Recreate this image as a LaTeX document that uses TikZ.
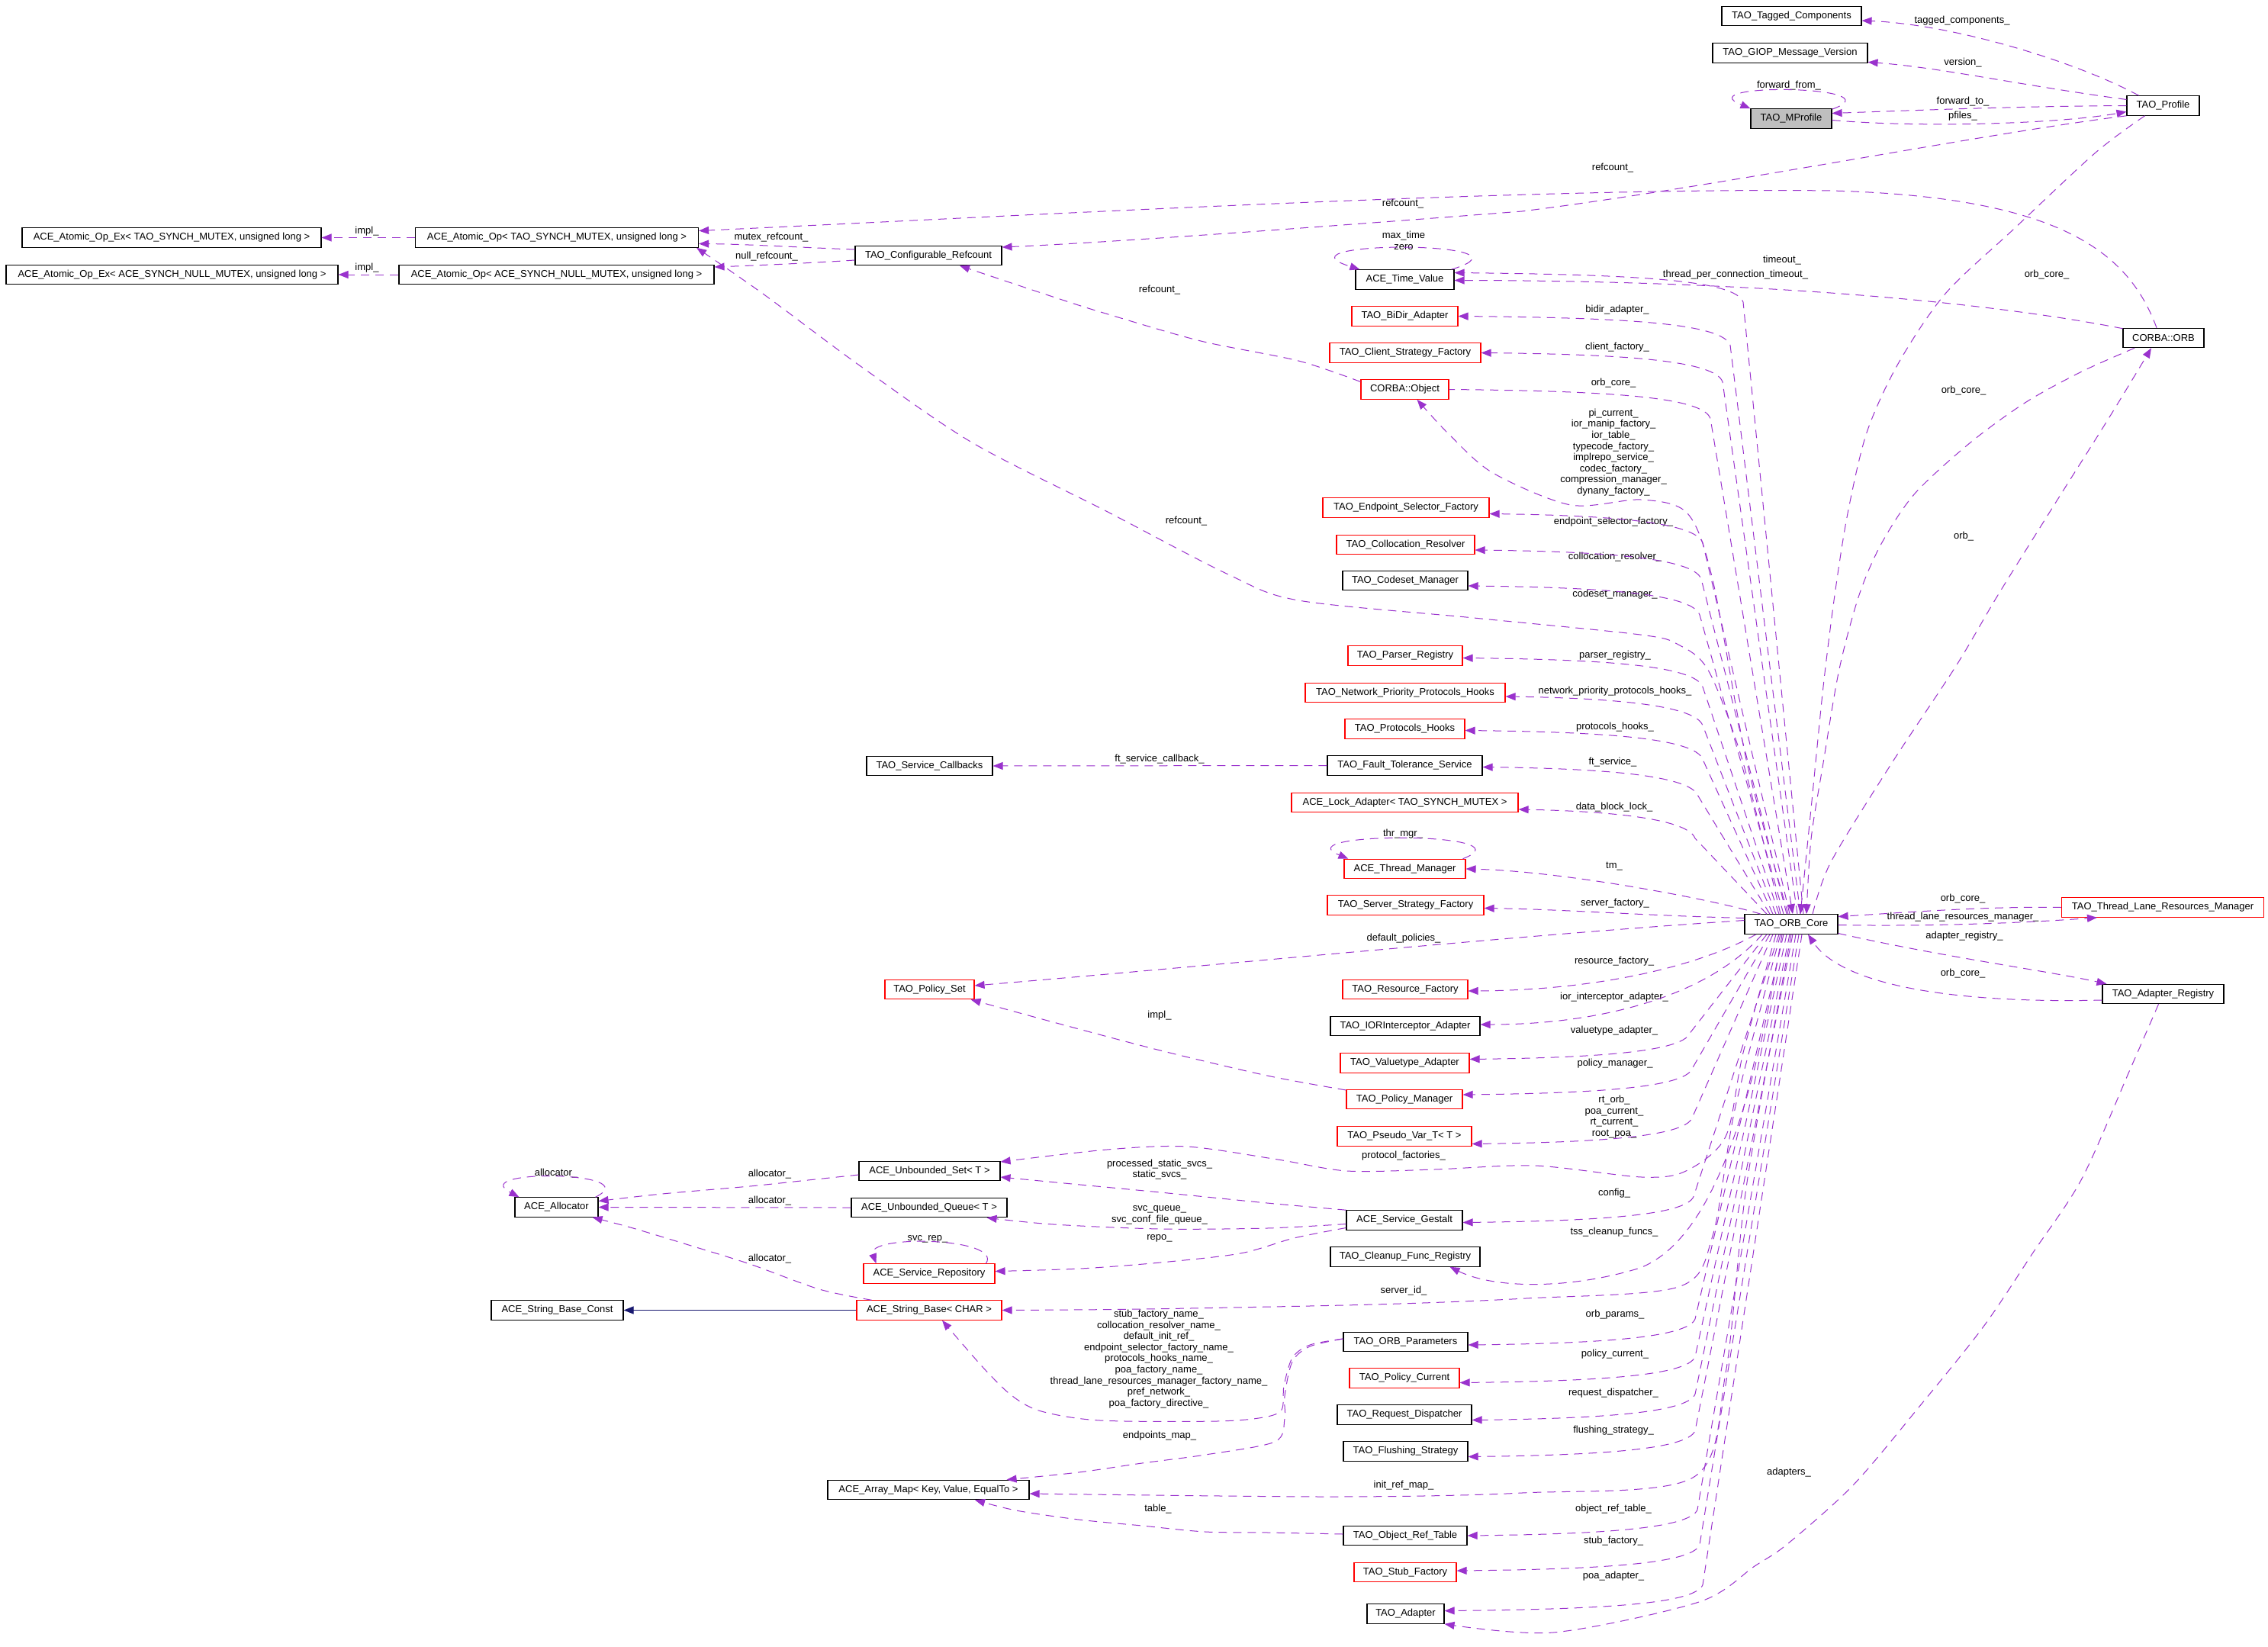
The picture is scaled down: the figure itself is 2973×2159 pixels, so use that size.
\documentclass[tikz,border=0pt]{standalone}
\usepackage{fontspec}
\setmainfont{Liberation Sans}
\usetikzlibrary{arrows.meta}
\definecolor{dorchid}{HTML}{9A32CD}
\definecolor{navyb}{HTML}{191970}
% fan edge from the top of TAO_ORB_Core: #2 target anchor, #3 x shift at core, #4 bend x, #5 target y
\newcommand\UpE[5][]{%
  \pgfmathsetmacro\upBY{#5+38}\pgfmathsetmacro\upCX{#4-10}\pgfmathsetmacro\upCY{#5+10}%
  \pgfmathsetmacro\upDX{#4-130}\pgfmathsetmacro\upDY{#5+2}%
  \draw[dep,->,#1] ([xshift=#3pt]core.north) -- (#4,\upBY) .. controls (\upCX,\upCY) and (\upDX,\upDY) .. (#2);}
\newcommand\DnE[5][]{%
  \pgfmathsetmacro\upBY{#5-34}\pgfmathsetmacro\upCX{#4-10}\pgfmathsetmacro\upCY{#5-9}%
  \pgfmathsetmacro\upDX{#4-130}\pgfmathsetmacro\upDY{#5-2}%
  \draw[dep,->,#1] ([xshift=#3pt]core.south) -- (#4,\upBY) .. controls (\upCX,\upCY) and (\upDX,\upDY) .. (#2);}
\begin{document}
\begin{tikzpicture}[x=1pt,y=-1pt,
  >={Triangle[length=13pt,width=10pt]},
  every node/.style={font=\fontsize{13}{14.6}\selectfont},
  box/.style={draw=black,line width=1.1pt,minimum height=25.5pt,inner sep=0pt,fill=white},
  rbox/.style={box,draw=red},
  gbox/.style={box,fill=black!25},
  dep/.style={draw=dorchid,line width=1pt,dash pattern=on 11pt off 8pt},
  lbl/.style={inner sep=0pt,align=center},
  inh/.style={draw=navyb,line width=1.1pt,->}]
\fill[white] (0,0) rectangle (2973,2159);
\useasboundingbox (0,0) rectangle (2973,2159);
% ---------------- nodes
\node[box,minimum width=183pt] (tagged) at (2348.5,21) {TAO\_Tagged\_Components};
\node[box,minimum width=203pt] (giop) at (2346.5,69.5) {TAO\_GIOP\_Message\_Version};
\node[gbox,minimum width=106pt] (mprofile) at (2348,155.5) {TAO\_MProfile};
\node[box,minimum width=95pt] (profile) at (2835.5,138.5) {TAO\_Profile};
\node[box,minimum width=392pt] (atomicexT) at (225,311.5) {ACE\_Atomic\_Op\_Ex< TAO\_SYNCH\_MUTEX, unsigned long >};
\node[box,minimum width=371pt] (atomicT) at (730,311.5) {ACE\_Atomic\_Op< TAO\_SYNCH\_MUTEX, unsigned long >};
\node[box,minimum width=435pt] (atomicexN) at (225.5,360) {ACE\_Atomic\_Op\_Ex< ACE\_SYNCH\_NULL\_MUTEX, unsigned long >};
\node[box,minimum width=413pt] (atomicN) at (729.5,360) {ACE\_Atomic\_Op< ACE\_SYNCH\_NULL\_MUTEX, unsigned long >};
\node[box,minimum width=192pt] (cfgref) at (1217,335) {TAO\_Configurable\_Refcount};
\node[box,minimum width=129pt] (timeval) at (1841.5,366.5) {ACE\_Time\_Value};
\node[rbox,minimum width=139pt] (bidir) at (1841.5,414.5) {TAO\_BiDir\_Adapter};
\node[rbox,minimum width=198pt] (clientsf) at (1842,462.5) {TAO\_Client\_Strategy\_Factory};
\node[rbox,minimum width=115pt] (cobject) at (1841.5,510.5) {CORBA::Object};
\node[box,minimum width=106pt] (corbaorb) at (2836,443) {CORBA::ORB};
\node[rbox,minimum width=218pt] (endpoint) at (1843,665.5) {TAO\_Endpoint\_Selector\_Factory};
\node[rbox,minimum width=181pt] (colloc) at (1842.5,714) {TAO\_Collocation\_Resolver};
\node[box,minimum width=164pt] (codeset) at (1842,761) {TAO\_Codeset\_Manager};
\node[rbox,minimum width=150pt] (parser) at (1842,859.5) {TAO\_Parser\_Registry};
\node[rbox,minimum width=262pt] (netprio) at (1842,908) {TAO\_Network\_Priority\_Protocols\_Hooks};
\node[rbox,minimum width=157pt] (protohooks) at (1841.5,955.5) {TAO\_Protocols\_Hooks};
\node[box,minimum width=165pt] (svccb) at (1218.5,1004) {TAO\_Service\_Callbacks};
\node[box,minimum width=203pt] (ftsvc) at (1841.5,1003.5) {TAO\_Fault\_Tolerance\_Service};
\node[rbox,minimum width=297pt] (lockad) at (1841.5,1052) {ACE\_Lock\_Adapter< TAO\_SYNCH\_MUTEX >};
\node[rbox,minimum width=159pt] (thrmgr) at (1841.5,1139) {ACE\_Thread\_Manager};
\node[rbox,minimum width=205pt] (serversf) at (1842.5,1186.5) {TAO\_Server\_Strategy\_Factory};
\node[box,minimum width=122pt] (core) at (2348,1211.5) {TAO\_ORB\_Core};
\node[rbox,minimum width=265pt] (tlrm) at (2835,1189.5) {TAO\_Thread\_Lane\_Resources\_Manager};
\node[box,minimum width=159pt] (adreg) at (2835.5,1303) {TAO\_Adapter\_Registry};
\node[rbox,minimum width=117pt] (polset) at (1218.5,1297) {TAO\_Policy\_Set};
\node[rbox,minimum width=164pt] (resfac) at (1842,1297) {TAO\_Resource\_Factory};
\node[box,minimum width=196pt] (iorint) at (1842,1345) {TAO\_IORInterceptor\_Adapter};
\node[rbox,minimum width=169pt] (valtype) at (1841.5,1393.5) {TAO\_Valuetype\_Adapter};
\node[rbox,minimum width=152pt] (polmgr) at (1841,1441) {TAO\_Policy\_Manager};
\node[rbox,minimum width=176pt] (pseudo) at (1841,1489.5) {TAO\_Pseudo\_Var\_T< T >};
\node[box,minimum width=185pt] (uset) at (1218.5,1535) {ACE\_Unbounded\_Set< T >};
\node[box,minimum width=204pt] (uqueue) at (1218,1583) {ACE\_Unbounded\_Queue< T >};
\node[box,minimum width=152pt] (gestalt) at (1841,1599.5) {ACE\_Service\_Gestalt};
\node[box,minimum width=109pt] (alloc) at (729.5,1582.5) {ACE\_Allocator};
\node[rbox,minimum width=172pt] (svcrepo) at (1218,1669.5) {ACE\_Service\_Repository};
\node[box,minimum width=196pt] (cleanup) at (1842,1647.5) {TAO\_Cleanup\_Func\_Registry};
\node[box,minimum width=173pt] (strconst) at (730.5,1717.5) {ACE\_String\_Base\_Const};
\node[rbox,minimum width=190pt] (strbase) at (1218,1717.5) {ACE\_String\_Base< CHAR >};
\node[box,minimum width=163pt] (orbparams) at (1842.5,1759) {TAO\_ORB\_Parameters};
\node[rbox,minimum width=144pt] (polcur) at (1841,1806.5) {TAO\_Policy\_Current};
\node[box,minimum width=176pt] (reqdisp) at (1841,1854.5) {TAO\_Request\_Dispatcher};
\node[box,minimum width=163pt] (flush) at (1842.5,1902.5) {TAO\_Flushing\_Strategy};
\node[box,minimum width=264pt] (arraymap) at (1217,1953) {ACE\_Array\_Map< Key, Value, EqualTo >};
\node[box,minimum width=162pt] (objref) at (1842,2013) {TAO\_Object\_Ref\_Table};
\node[rbox,minimum width=134pt] (stubfac) at (1842,2061) {TAO\_Stub\_Factory};
\node[box,minimum width=101pt] (adapter) at (1842.5,2115.5) {TAO\_Adapter};
% ---------------- labels
\node[lbl] (L1) at (2572,27) {tagged\_components\_};
\node[lbl] (L2) at (2573,82) {version\_};
\node[lbl] (L3) at (2573,133) {forward\_to\_};
\node[lbl] (L4) at (2573,152) {pfiles\_};
\node[lbl] (L5) at (2345,112) {forward\_from\_};
\node[lbl] (L6) at (2114,220) {refcount\_};
\node[lbl] (L7) at (1839,267) {refcount\_};
\node[lbl] (L8) at (2683,360) {orb\_core\_};
\node[lbl] (L9) at (481,303) {impl\_};
\node[lbl] (L10) at (481,351) {impl\_};
\node[lbl] (L11) at (1011,311) {mutex\_refcount\_};
\node[lbl] (L12) at (1005,336) {null\_refcount\_};
\node[lbl] (L13) at (1840,315.5) {max\_time\\zero};
\node[lbl] (L14) at (2336,341) {timeout\_};
\node[lbl] (L15) at (2275,360) {thread\_per\_connection\_timeout\_};
\node[lbl] (L16) at (1520,380) {refcount\_};
\node[lbl] (L17) at (2120,406) {bidir\_adapter\_};
\node[lbl] (L18) at (2120,455) {client\_factory\_};
\node[lbl] (L19) at (2115,502) {orb\_core\_};
\node[lbl] (L20) at (2574,512) {orb\_core\_};
\node[lbl] (L21) at (2115,593) {pi\_current\_\\ior\_manip\_factory\_\\ior\_table\_\\typecode\_factory\_\\implrepo\_service\_\\codec\_factory\_\\compression\_manager\_\\dynany\_factory\_};
\node[lbl] (L22) at (2115,684) {endpoint\_selector\_factory\_};
\node[lbl] (L23) at (1555,683) {refcount\_};
\node[lbl] (L24) at (2574,703) {orb\_};
\node[lbl] (L25) at (2117,730) {collocation\_resolver\_};
\node[lbl] (L26) at (2117,779) {codeset\_manager\_};
\node[lbl] (L27) at (2117,859) {parser\_registry\_};
\node[lbl] (L28) at (2117,906) {network\_priority\_protocols\_hooks\_};
\node[lbl] (L29) at (2117,953) {protocols\_hooks\_};
\node[lbl] (L30) at (1520,995) {ft\_service\_callback\_};
\node[lbl] (L31) at (2114,999) {ft\_service\_};
\node[lbl] (L32) at (2116,1058) {data\_block\_lock\_};
\node[lbl] (L33) at (1839,1093) {thr\_mgr\_};
\node[lbl] (L34) at (2116,1136) {tm\_};
\node[lbl] (L35) at (2573,1178) {orb\_core\_};
\node[lbl] (L36) at (2117,1184) {server\_factory\_};
\node[lbl] (L37) at (2573,1202) {thread\_lane\_resources\_manager\_};
\node[lbl] (L38) at (2575,1227) {adapter\_registry\_};
\node[lbl] (L39) at (1840,1230) {default\_policies\_};
\node[lbl] (L40) at (2116,1260) {resource\_factory\_};
\node[lbl] (L41) at (2573,1276) {orb\_core\_};
\node[lbl] (L42) at (2116,1307) {ior\_interceptor\_adapter\_};
\node[lbl] (L43) at (1520,1331) {impl\_};
\node[lbl] (L44) at (2116,1351) {valuetype\_adapter\_};
\node[lbl] (L45) at (2117,1394) {policy\_manager\_};
\node[lbl] (L46) at (2116,1464) {rt\_orb\_\\poa\_current\_\\rt\_current\_\\root\_poa\_};
\node[lbl] (L47) at (1840,1515) {protocol\_factories\_};
\node[lbl] (L48) at (1520,1533) {processed\_static\_svcs\_\\static\_svcs\_};
\node[lbl] (L49) at (729,1538) {allocator\_};
\node[lbl] (L50) at (1009,1539) {allocator\_};
\node[lbl] (L51) at (2116,1564) {config\_};
\node[lbl] (L52) at (1009,1574) {allocator\_};
\node[lbl] (L53) at (1520,1593) {svc\_queue\_\\svc\_conf\_file\_queue\_};
\node[lbl] (L54) at (2116,1615) {tss\_cleanup\_funcs\_};
\node[lbl] (L55) at (1520,1623) {repo\_};
\node[lbl] (L56) at (1216,1624) {svc\_rep\_};
\node[lbl] (L57) at (1009,1650) {allocator\_};
\node[lbl] (L58) at (1840,1692) {server\_id\_};
\node[lbl] (L59) at (2117,1723) {orb\_params\_};
\node[lbl] (L60) at (1519,1781.5) {stub\_factory\_name\_\\collocation\_resolver\_name\_\\default\_init\_ref\_\\endpoint\_selector\_factory\_name\_\\protocols\_hooks\_name\_\\poa\_factory\_name\_\\thread\_lane\_resources\_manager\_factory\_name\_\\pref\_network\_\\poa\_factory\_directive\_};
\node[lbl] (L61) at (2117,1775) {policy\_current\_};
\node[lbl] (L62) at (2115,1826) {request\_dispatcher\_};
\node[lbl] (L63) at (2115,1875) {flushing\_strategy\_};
\node[lbl] (L64) at (1520,1882) {endpoints\_map\_};
\node[lbl] (L65) at (2345,1930) {adapters\_};
\node[lbl] (L66) at (1840,1947) {init\_ref\_map\_};
\node[lbl] (L67) at (1518,1978) {table\_};
\node[lbl] (L68) at (2115,1978) {object\_ref\_table\_};
\node[lbl] (L69) at (2115,2020) {stub\_factory\_};
\node[lbl] (L70) at (2115,2066) {poa\_adapter\_};
% ---------------- top region edges
\draw[dep,->] ([xshift=-32pt]profile.north) .. controls (2720,80) and (2560,32) .. ([yshift=-6pt]tagged.east);
\draw[dep,->] ([yshift=8pt]profile.west) .. controls (2650,112) and (2540,88) .. ([yshift=-12pt]giop.east);
\draw[dep,->] (profile.west) .. controls (2650,139) and (2500,145) .. ([yshift=7pt]mprofile.east);
\draw[dep,->] ([yshift=-2pt]mprofile.east) .. controls (2520,168) and (2700,162) .. ([yshift=-8pt]profile.west);
\draw[dep,->] ([yshift=-1pt]mprofile.north east) .. controls (2490,112) and (2210,108) .. (mprofile.north west);
\draw[dep,->] (profile.south west) .. controls (2600,175) and (2250,245) .. (1995,277) .. controls (1700,300) and (1450,318) .. ([yshift=11pt]cfgref.east);
\draw[dep,->] ([xshift=-9pt]corbaorb.north) .. controls (2790,330) and (2700,258) .. (2400,250) .. controls (2000,245) and (1300,285) .. ([yshift=9pt]atomicT.east);
\draw[dep,->] plot[smooth] coordinates {([xshift=-24pt]profile.south) (2747,200) (2640,300) (2550,385) (2488,477) (2447,567) (2422,673) (2405,780) (2390,900) (2375,1050) ([xshift=12pt]core.north)};
\draw[dep,->] plot[smooth] coordinates {([xshift=-38pt]corbaorb.south) (2729,487) (2656,527) (2583,580) (2510,647) (2466,713) (2437,780) (2411,877) (2390,1000) (2374,1100) ([xshift=20pt]core.north)};
\draw[dep,->] plot[smooth] coordinates {([xshift=28pt]core.north) (2400,1130) (2480,1000) (2564,873) (2619,780) (2692,663) (2765,547) ([xshift=-16pt]corbaorb.south)};
\draw[dep,->] ([yshift=-1pt]corbaorb.north west) .. controls (2600,395) and (2300,368) .. ([yshift=-1pt]timeval.east);
% ---------------- left top
\draw[dep,->] (atomicT.west) -- (atomicexT.east);
\draw[dep,->] (atomicN.west) -- (atomicexN.east);
\draw[dep,->] ([yshift=8pt]cfgref.west) .. controls (1060,325) and (980,320) .. ([yshift=-8pt]atomicT.east);
\draw[dep,->] ([yshift=-6pt]cfgref.west) .. controls (1060,345) and (990,348) .. ([yshift=10pt]atomicN.east);
\draw[dep,->] plot[smooth] coordinates {([yshift=10pt]cobject.west) (1702,473) (1574,447) (1446,410) (1383,390) ([xshift=41pt]cfgref.south)};
\draw[dep,->] plot[smooth] coordinates {([xshift=-14pt]core.north) (2285,1000) (2240,880) (2200,845) (2150,832) (1932,810) (1702,787) (1610,753) (1450,670) (1274,580) (1128,480) (1000,385) ([xshift=-3pt]atomicT.south east)};
% self loops
\draw[dep,->] ([xshift=-4pt]timeval.north east) .. controls (2030,315) and (1660,315) .. ([xshift=6pt]timeval.north west);
\draw[dep,->] ([xshift=-4pt]thrmgr.north east) .. controls (2010,1090) and (1680,1090) .. ([xshift=6pt]thrmgr.north west);
\draw[dep,->] ([xshift=-12pt]svcrepo.north east) .. controls (1315,1622) and (1135,1618) .. ([xshift=17pt]svcrepo.north west);
\draw[dep,->] ([xshift=-4pt]alloc.north east) .. controls (850,1535) and (610,1532) .. ([xshift=6pt]alloc.north west);
% ---------------- core fan (up)
\UpE{[yshift=9pt]timeval.east}{16}{2285}{358}
\UpE{bidir.east}{12}{2268}{414.5}
\UpE{clientsf.east}{8}{2258}{462.5}
\UpE[<-]{cobject.east}{2}{2242}{510.5}
\draw[dep,->] plot[smooth] coordinates {([xshift=-4pt]core.north) (2290,1000) (2245,760) (2212,673) (2151,655) (2059,662) (1957,620) (1900,570) ([xshift=16pt]cobject.south)};
\UpE{[yshift=-8pt]endpoint.east}{-2}{2232}{673.5}
\UpE{[yshift=-7pt]colloc.east}{-6}{2230}{721}
\UpE{[yshift=-7pt]codeset.east}{-10}{2228}{768}
\UpE{[yshift=-3pt]parser.east}{-16}{2232}{862.5}
\UpE{[yshift=-5pt]netprio.east}{-20}{2232}{913}
\UpE{[yshift=-2pt]protohooks.east}{-24}{2232}{957.5}
\UpE{[yshift=-2pt]ftsvc.east}{-28}{2226}{1005.5}
\UpE{[yshift=-9pt]lockad.east}{-32}{2222}{1061}
\draw[dep,->] ([xshift=-40pt]core.north) .. controls (2250,1180) and (2050,1142) .. (thrmgr.east);
\draw[dep,->] ([yshift=8pt]core.west) .. controls (2150,1200) and (2050,1192) .. ([yshift=-4pt]serversf.east);
% ---------------- core fan (down)
\draw[dep,->] ([xshift=-46pt]core.south) .. controls (2230,1265) and (2100,1298) .. ([yshift=-2pt]resfac.east);
\draw[dep,->] ([xshift=-38pt]core.south) .. controls (2240,1305) and (2100,1343) .. ([yshift=2pt]iorint.east);
\DnE{[yshift=5pt]valtype.east}{-32}{2215}{1388.5}
\DnE{[yshift=6pt]polmgr.east}{-28}{2218}{1435}
\DnE{[yshift=-10pt]pseudo.east}{-24}{2218}{1499.5}
\DnE{[yshift=-3pt]gestalt.east}{-16}{2220}{1602.5}
\DnE{[yshift=-4pt]orbparams.east}{-10}{2222}{1763}
\DnE{[yshift=-6pt]polcur.east}{-6}{2222}{1812.5}
\DnE{[yshift=-7pt]reqdisp.east}{-2}{2222}{1861.5}
\DnE{[yshift=-7pt]flush.east}{2}{2222}{1909.5}
\DnE{objref.east}{6}{2225}{2013}
\DnE{[yshift=2pt]stubfac.east}{10}{2228}{2059}
\DnE{[yshift=4pt]adapter.east}{14}{2232}{2111.5}
\draw[dep,->] ([yshift=5pt]core.west) .. controls (2000,1225) and (1600,1265) .. ([yshift=5pt]polset.east);
\draw[dep,->] plot[smooth] coordinates {([xshift=-20pt]core.south) (2285,1380) (2262,1490) (2210,1535) (2152,1543) (2012,1528) (1880,1533) (1766,1535) (1675,1520) (1556,1503) (1451,1507) ([yshift=12pt]uset.east)};
\draw[dep,->] ([xshift=-12pt]core.south) .. controls (2290,1500) and (2230,1630) .. (2150,1662) .. controls (2060,1690) and (1960,1690) .. ([xshift=-40pt]cleanup.south east);
\draw[dep,->] plot[smooth] coordinates {([xshift=-14pt]core.south) (2275,1450) (2245,1620) (2200,1687) (2000,1702) (1801,1710) (1500,1716) (strbase.east)};
\draw[dep,->] plot[smooth] coordinates {([xshift=0pt]core.south) (2290,1550) (2262,1800) (2219,1937) (1995,1957) (1746,1962) ([yshift=-5pt]arraymap.east)};
% ---------------- right side
\draw[dep,->] (tlrm.west) .. controls (2600,1188) and (2500,1196) .. ([yshift=10pt]core.east);
\draw[dep,->] ([yshift=-1pt]core.east) .. controls (2550,1215) and (2680,1208) .. ([xshift=47pt]tlrm.south west);
\draw[dep,->] ([yshift=-12pt]core.east) .. controls (2550,1255) and (2680,1272) .. ([xshift=6pt]adreg.north west);
\draw[dep,->] ([yshift=-8pt]adreg.west) .. controls (2600,1315) and (2420,1300) .. ([xshift=22pt]core.south);
\draw[dep,->] plot[smooth] coordinates {([xshift=-6pt]adreg.south) (2793,1400) (2729,1545) (2665,1642) (2600,1739) (2515,1845) (2429,1947) (2343,2024) (2300,2053) (2227,2100) (2036,2140) (adapter.south east)};
% ---------------- middle / left
\draw[dep,->] (ftsvc.west) -- (svccb.east);
\draw[dep,->] plot[smooth] coordinates {([yshift=12pt]polmgr.west) (1661,1410) (1521,1377) (1381,1340) ([xshift=-5pt]polset.south east)};
\draw[dep,->] plot[smooth] coordinates {(gestalt.north west) (1661,1577) (1521,1563) (1416,1553) ([yshift=-8pt]uset.east)};
\draw[dep,->] plot[smooth] coordinates {([yshift=-5pt]gestalt.west) (1661,1610) (1521,1611) (1381,1605) ([xshift=-27pt]uqueue.south east)};
\draw[dep,->] plot[smooth] coordinates {([yshift=-10pt]gestalt.west) (1696,1623) (1626,1643) (1521,1655) (1416,1663) ([yshift=3pt]svcrepo.east)};
\draw[dep,->] plot[smooth] coordinates {([yshift=-5pt]uset.west) (1059,1547) (983,1555) (868,1565) ([yshift=8pt]alloc.east)};
\draw[dep,->] (uqueue.west) -- (alloc.east);
\draw[dep,->] plot[smooth] coordinates {([xshift=20pt]strbase.north west) (1074,1690) (983,1657) (906,1633) (830,1610) ([xshift=-8pt]alloc.south east)};
\draw[inh] (strbase.west) -- (strconst.east);
\draw[dep,->] plot[smooth] coordinates {([yshift=4pt]orbparams.west) (1717,1763) (1694,1780) (1683,1817) (1680,1848) (1656,1858) (1595,1863) (1442,1862) (1365,1850) (1327,1830) (1289,1793) ([xshift=17pt]strbase.south)};
\draw[dep,->] plot[smooth] coordinates {([yshift=4pt]orbparams.west) (1717,1765) (1694,1785) (1684,1830) (1684,1860) (1671,1890) (1580,1907) (1497,1918) (1414,1930) ([xshift=-30pt]arraymap.north east)};
\draw[dep,->] plot[smooth] coordinates {([yshift=2pt]objref.west) (1663,2009) (1580,2008) (1497,2000) (1414,1992) (1332,1980) ([xshift=61pt]arraymap.south)};
\end{tikzpicture}
\end{document}
